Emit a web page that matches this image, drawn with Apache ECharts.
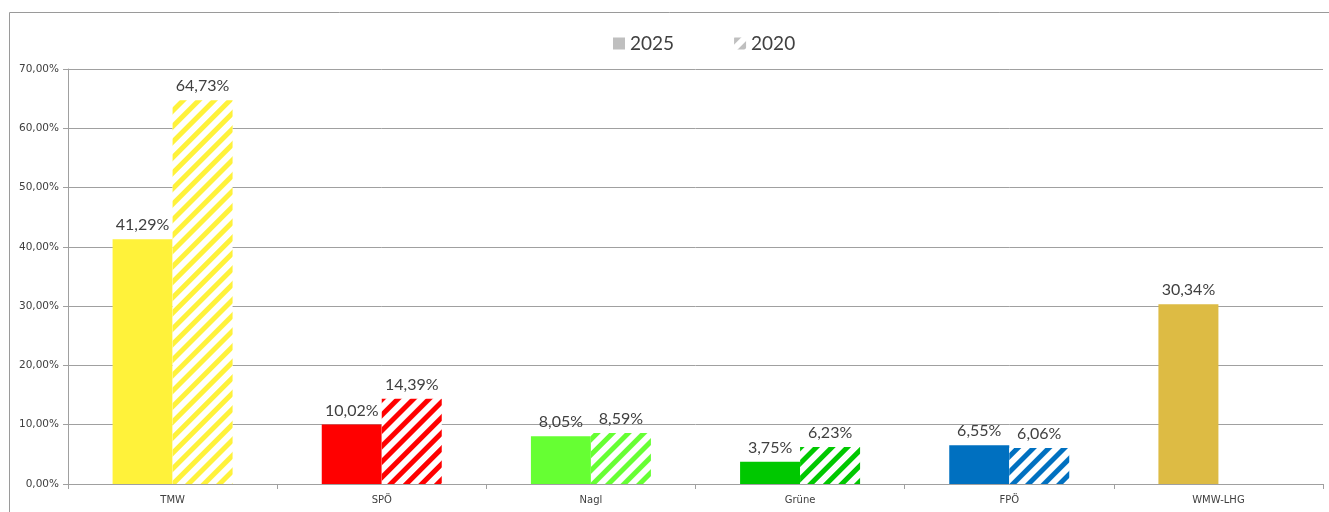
<!DOCTYPE html>
<html>
<head>
<meta charset="utf-8">
<script src="https://cdn.jsdelivr.net/npm/echarts@6/dist/echarts.min.js"></script>
<style>html,body{margin:0;padding:0;background:#fff;}#c{width:1329px;height:512px;}</style>
</head>
<body>
<div id="c"></div>
<script>
const categories = ['TMW', 'SPÖ', 'Nagl', 'Grüne', 'FPÖ', 'WMW-LHG'];
const values2025 = [41.29, 10.02, 8.05, 3.75, 6.55, 30.34];
const values2020 = [64.73, 14.39, 8.59, 6.23, 6.06, null];
const partyColors = ['#FFF23A', '#FF0000', '#66FF33', '#00C800', '#0070C0', '#DDBB44'];
const yTicks = [0, 10, 20, 30, 40, 50, 60, 70];

const fmt = v => v.toFixed(2).replace('.', ',') + '%';

function decalFor(color) {
  return { symbol: 'rect', symbolSize: 1, color: color, dashArrayX: [1, 0], dashArrayY: [5, 6], rotation: -Math.PI / 4 };
}

const chart = echarts.init(document.getElementById('c'), null, { renderer: 'canvas' });
chart.setOption({
  animation: false,
  backgroundColor: '#fff',
  graphic: [{
    type: 'rect', silent: true, z: -1,
    shape: { x: 9.5, y: 12.5, width: 1340, height: 520 },
    style: { fill: 'none', stroke: '#9a9a9a', lineWidth: 1 }
  }],
  legend: {
    top: 29, left: 608, itemGap: 60, itemWidth: 12, itemHeight: 12,
    textStyle: { fontFamily: 'Lato', fontSize: 19, color: '#404040' },
    data: [
      { name: '2025', icon: 'rect', itemStyle: { color: '#BFBFBF' } },
      { name: '2020', icon: 'rect', itemStyle: { color: '#fff', decal: decalFor('#BFBFBF') } }
    ]
  },
  grid: { left: 68, right: 6, top: 69, bottom: 28, containLabel: false },
  xAxis: {
    type: 'category', data: categories,
    axisLine: { lineStyle: { color: '#a0a0a0' } },
    axisTick: { show: true, length: 5, lineStyle: { color: '#a0a0a0' } },
    axisLabel: { fontFamily: 'DejaVu Sans', fontSize: 10, color: '#404040', margin: 11 }
  },
  yAxis: {
    type: 'value', min: 0, max: 70, interval: 10,
    axisLine: { show: true, lineStyle: { color: '#a0a0a0' } },
    axisTick: { show: true, length: 5, lineStyle: { color: '#a0a0a0' } },
    splitLine: { lineStyle: { color: '#a0a0a0' } },
    axisLabel: { fontFamily: 'DejaVu Sans', fontSize: 10.5, color: '#404040', margin: 9,
      formatter: v => yTicks.includes(v) ? fmt(v) : '' }
  },
  series: [
    {
      name: '2025', type: 'bar', barWidth: 60, barGap: '0%',
      itemStyle: { color: '#BFBFBF' },
      data: values2025.map((v, i) => ({ value: v, itemStyle: { color: partyColors[i] } })),
      label: { show: true, position: 'top', distance: 6, fontFamily: 'Lato', fontSize: 16, color: '#404040',
        formatter: p => fmt(p.value) }
    },
    {
      name: '2020', type: 'bar', barWidth: 60, barGap: '0%',
      itemStyle: { color: '#fff', decal: decalFor('#BFBFBF') },
      data: values2020.map((v, i) => v == null ? '-' : ({ value: v, itemStyle: { color: '#fff', decal: decalFor(partyColors[i]) } })),
      label: { show: true, position: 'top', distance: 6, fontFamily: 'Lato', fontSize: 16, color: '#404040',
        formatter: p => fmt(p.value) }
    }
  ]
});
</script>
</body>
</html>
